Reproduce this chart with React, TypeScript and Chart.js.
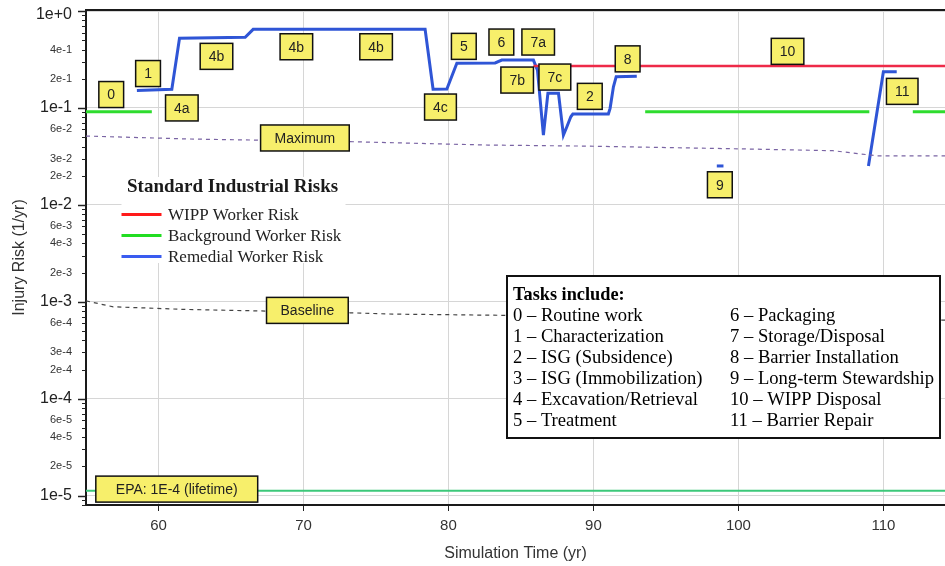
import React, { useEffect, useRef } from 'react';
import { Chart, registerables } from 'chart.js';

Chart.register(...registerables);

// ---------- axis ranges and ticks ----------
const X_MIN = 55;
const X_MAX = 114.25;
const Y_MIN = 8e-6;
const Y_MAX = 1.025;
const xTickValues = [60, 70, 80, 90, 100, 110];
const yTickLabels = [
  '1e+0', '4e-1', '2e-1', '1e-1', '6e-2', '3e-2', '2e-2', '1e-2', '6e-3', '4e-3', '2e-3',
  '1e-3', '6e-4', '3e-4', '2e-4', '1e-4', '6e-5', '4e-5', '2e-5', '1e-5',
];

// ---------- series (time in yr, risk in 1/yr) ----------
const remedialYears1 = [58.51, 60.92, 61.45, 65.98, 66.53, 78.39, 78.94, 79.89, 80.58, 83.22, 83.68, 85.86, 86.14, 86.55, 86.86, 87.59, 87.93, 88.17, 88.44, 88.58, 91.03, 91.15, 91.38, 91.57, 92.99];
const remedialRisk1 = [0.151, 0.156, 0.523, 0.535, 0.647, 0.647, 0.156, 0.157, 0.289, 0.291, 0.312, 0.312, 0.246, 0.0525, 0.1415, 0.1415, 0.0525, 0.064, 0.0811, 0.0865, 0.0865, 0.0991, 0.1655, 0.21, 0.213];
const remedialYears2 = [98.51, 98.97];
const remedialRisk2 = [0.0252, 0.0252];
const remedialYears3 = [108.97, 110.0, 110.92];
const remedialRisk3 = [0.0252, 0.236, 0.236];

const wippYears = [85.86, 115];
const wippRisk = [0.271, 0.271];

const backgroundYears1 = [55, 59.54];
const backgroundRisk1 = [0.0914, 0.0914];
const backgroundYears2 = [93.57, 109.03];
const backgroundRisk2 = [0.0914, 0.0914];
const backgroundYears3 = [112.03, 115];
const backgroundRisk3 = [0.0914, 0.0914];

const epaYears = [55, 115];
const epaRisk = [1.12e-5, 1.12e-5];

const maximumYears = [55, 62.19, 73.43, 82.74, 89.43, 94.39, 100.67, 106.53, 109.54, 115];
const maximumRisk = [0.0513, 0.0478, 0.0448, 0.0414, 0.0404, 0.0392, 0.0377, 0.0362, 0.0321, 0.0321];

const baselineYears = [55, 56.88, 61.7, 73.22, 76.19, 115];
const baselineRisk = [1.02e-3, 8.88e-4, 8.35e-4, 7.7e-4, 7.46e-4, 6.45e-4];

// ---------- callout labels (anchored in data units) ----------
const callouts = [
  { text: '0', x: 56.74, y: 0.1375 },
  { text: '1', x: 59.28, y: 0.2265 },
  { text: '4a', x: 61.61, y: 0.1 },
  { text: '4b', x: 64.0, y: 0.3407 },
  { text: '4b', x: 69.51, y: 0.428 },
  { text: '4b', x: 75.01, y: 0.428 },
  { text: '4c', x: 79.45, y: 0.1022 },
  { text: '5', x: 81.06, y: 0.432 },
  { text: '6', x: 83.65, y: 0.4787 },
  { text: '7a', x: 86.19, y: 0.4787 },
  { text: '7b', x: 84.74, y: 0.194 },
  { text: '7c', x: 87.34, y: 0.2084 },
  { text: '2', x: 89.75, y: 0.1317 },
  { text: '8', x: 92.36, y: 0.321 },
  { text: '10', x: 103.39, y: 0.3838 },
  { text: '9', x: 98.72, y: 0.01612 },
  { text: '11', x: 111.3, y: 0.1483 },
  { text: 'Maximum', x: 70.1, y: 0.049, pad: 14 },
  { text: 'Baseline', x: 70.27, y: 8.15e-4, pad: 14 },
  { text: 'EPA: 1E-4 (lifetime)', x: 61.26, y: 1.167e-5, pad: 20 },
];

const legendTitle = 'Standard Industrial Risks';
const legendItems = [
  { label: 'WIPP Worker Risk', color: '#ff1a1a' },
  { label: 'Background Worker Risk', color: '#22dd22' },
  { label: 'Remedial Worker Risk', color: '#3a5cf0' },
];

const tasksTitle = 'Tasks include:';
const tasksLeft = ['0 – Routine work', '1 – Characterization', '2 – ISG (Subsidence)', '3 – ISG (Immobilization)', '4 – Excavation/Retrieval', '5 – Treatment'];
const tasksRight = ['6 – Packaging', '7 – Storage/Disposal', '8 – Barrier Installation', '9 – Long-term Stewardship', '10 – WIPP Disposal', '11 – Barrier Repair'];

const SANS = '"Liberation Sans", Arial, sans-serif';
const SERIF = '"Liberation Serif", "Times New Roman", serif';

const pts = (xs: number[], ys: number[]) => xs.map((x, i) => ({ x, y: ys[i] }));
const isDecade = (v: number) => {
  const l = Math.log10(v);
  return Math.abs(l - Math.round(l)) < 1e-6;
};
const TOP_LABEL = yTickLabels[0];

const BLUE = '#2f55d6';
const RED = '#ee2a48';
const GREEN = '#2edc2e';

const overlayPlugin = {
  id: 'overlay',
  afterDatasetsDraw(chart: any) {
    const { ctx, scales } = chart;
    const xs = scales.x;
    const ys = scales.y;
    ctx.save();

    // legend box
    ctx.fillStyle = '#ffffff';
    ctx.fillRect(121.5, 177, 224, 86);
    ctx.fillStyle = '#1a1a1a';
    ctx.font = `bold 19px ${SERIF}`;
    ctx.textBaseline = 'middle';
    ctx.textAlign = 'left';
    ctx.fillText(legendTitle, 127, 187);
    legendItems.forEach((it, i) => {
      const y = 214.5 + i * 21;
      ctx.strokeStyle = it.color;
      ctx.lineWidth = 3;
      ctx.beginPath();
      ctx.moveTo(121.5, y);
      ctx.lineTo(161.5, y);
      ctx.stroke();
      ctx.fillStyle = '#222';
      ctx.font = `17px ${SERIF}`;
      ctx.fillText(it.label, 168, y + 1);
    });

    // tasks box
    ctx.fillStyle = '#ffffff';
    ctx.fillRect(507, 276, 433, 162);
    ctx.strokeStyle = '#111';
    ctx.lineWidth = 2;
    ctx.strokeRect(507, 276, 433, 162);
    ctx.fillStyle = '#000';
    ctx.font = `bold 18.3px ${SERIF}`;
    ctx.fillText(tasksTitle, 513, 295);
    ctx.font = `18.6px ${SERIF}`;
    tasksLeft.forEach((t, i) => ctx.fillText(t, 513, 316 + i * 21.1));
    tasksRight.forEach((t, i) => ctx.fillText(t, 730, 316 + i * 21.1));

    // callouts
    ctx.font = `14px ${SANS}`;
    ctx.textAlign = 'center';
    callouts.forEach((c) => {
      const px = xs.getPixelForValue(c.x);
      const py = ys.getPixelForValue(c.y);
      const pad = c.pad ?? 8.5;
      const w = ctx.measureText(c.text).width + pad * 2;
      const h = 26;
      ctx.fillStyle = '#f7ef6b';
      ctx.fillRect(px - w / 2, py - h / 2, w, h);
      ctx.strokeStyle = '#111';
      ctx.lineWidth = 1.5;
      ctx.strokeRect(px - w / 2, py - h / 2, w, h);
      ctx.fillStyle = '#222';
      ctx.fillText(c.text, px, py + 1);
    });
    ctx.restore();
  },
  afterDraw(chart: any) {
    const { ctx, chartArea, scales } = chart;
    ctx.save();
    // top border
    ctx.strokeStyle = '#1a1a1a';
    ctx.lineWidth = 2;
    ctx.beginPath();
    ctx.moveTo(chartArea.left - 1, chartArea.top);
    ctx.lineTo(chartArea.right, chartArea.top);
    ctx.stroke();
    // y tick marks
    const ys = scales.y;
    ys.ticks.forEach((t: any) => {
      const y = Math.round(ys.getPixelForValue(t.value)) + 0.5;
      const dec = isDecade(t.value);
      const len = dec ? 8 : 4;
      ctx.lineWidth = dec ? 1.5 : 1;
      ctx.strokeStyle = '#222';
      ctx.beginPath();
      ctx.moveTo(chartArea.left - len, y);
      ctx.lineTo(chartArea.left, y);
      ctx.stroke();
    });
    // top decade label, kept inside the canvas like the original
    ctx.font = `16px ${SANS}`;
    ctx.fillStyle = '#222';
    ctx.textAlign = 'right';
    ctx.textBaseline = 'middle';
    ctx.fillText(TOP_LABEL, chartArea.left - 14, Math.max(ys.getPixelForValue(1), chartArea.top + 5));
    ctx.restore();
  },
};

export default function App() {
  const ref = useRef<HTMLCanvasElement>(null);
  useEffect(() => {
    const yTickValues: number[] = [];
    for (let k = -6; k <= 0; k++) {
      for (let m = 1; m <= 9; m++) {
        const v = parseFloat(`${m}e${k}`);
        if (v >= Y_MIN && v <= Y_MAX) yTickValues.push(v);
      }
    }
    const line = (label: string, data: any[], color: string, width: number, dash: number[] = []) => ({
      label,
      data,
      borderColor: color,
      backgroundColor: color,
      borderWidth: width,
      borderDash: dash,
      pointRadius: 0,
      tension: 0,
      fill: false,
    });
    const chart = new Chart(ref.current as HTMLCanvasElement, {
      type: 'line',
      data: {
        datasets: [
          line('EPA', pts(epaYears, epaRisk), '#3cc87a', 2),
          line('Baseline', pts(baselineYears, baselineRisk), '#444444', 1.2, [4, 4]),
          line('Maximum', pts(maximumYears, maximumRisk), '#7a64a4', 1.2, [4, 4]),
          line('Background Worker Risk', pts(backgroundYears1, backgroundRisk1), GREEN, 3),
          line('Background Worker Risk 2', pts(backgroundYears2, backgroundRisk2), GREEN, 3),
          line('Background Worker Risk 3', pts(backgroundYears3, backgroundRisk3), GREEN, 3),
          line('WIPP Worker Risk', pts(wippYears, wippRisk), RED, 2.5),
          line('Remedial Worker Risk', pts(remedialYears1, remedialRisk1), BLUE, 3),
          line('Remedial Worker Risk 2', pts(remedialYears2, remedialRisk2), BLUE, 3),
          line('Remedial Worker Risk 3', pts(remedialYears3, remedialRisk3), BLUE, 3),
        ],
      },
      options: {
        animation: false,
        responsive: false,
        layout: { padding: { top: 10, left: 0, right: 0, bottom: 0 } },
        plugins: { legend: { display: false }, tooltip: { enabled: false } },
        scales: {
          x: {
            type: 'linear',
            min: X_MIN,
            max: X_MAX,
            afterBuildTicks: (s: any) => {
              s.ticks = xTickValues.map((v) => ({ value: v }));
            },
            afterFit: (s: any) => {
              s.height = 61;
              s.paddingLeft = 0;
              s.paddingRight = 0;
            },
            grid: { color: '#d6d6d6', lineWidth: 1, tickLength: 6, tickColor: '#222', drawTicks: true },
            border: { display: true, color: '#1a1a1a', width: 2 },
            ticks: { font: { family: SANS, size: 15 }, color: '#333', padding: 6, maxRotation: 0, autoSkip: false },
            title: {
              display: true,
              text: 'Simulation Time (yr)',
              font: { family: SANS, size: 16 },
              color: '#333',
              padding: { top: 0, bottom: 2.5 },
            },
          },
          y: {
            type: 'logarithmic',
            min: Y_MIN,
            max: Y_MAX,
            afterBuildTicks: (s: any) => {
              s.ticks = yTickValues.map((v) => ({ value: v }));
            },
            afterFit: (s: any) => {
              s.width = 86;
              s.paddingTop = 0;
              s.paddingBottom = 0;
            },
            grid: {
              color: (c: any) => (c.tick && isDecade(c.tick.value) ? '#d6d6d6' : 'rgba(0,0,0,0)'),
              lineWidth: 1,
              drawTicks: false,
            },
            border: { display: true, color: '#1a1a1a', width: 2 },
            ticks: {
              autoSkip: false,
              padding: 14,
              callback: (v: any) => {
                const s = Number(v).toExponential(0);
                if (s === TOP_LABEL) return '';
                return yTickLabels.includes(s) ? s : '';
              },
              font: (c: any) => ({ family: SANS, size: c.tick && isDecade(c.tick.value) ? 16 : 11 }),
              color: (c: any) => (c.tick && isDecade(c.tick.value) ? '#222' : '#333'),
            },
            title: {
              display: true,
              text: 'Injury Risk (1/yr)',
              font: { family: SANS, size: 16 },
              color: '#333',
              padding: { top: 10, bottom: 0 },
            },
          },
        },
      },
      plugins: [overlayPlugin],
    } as any);
    return () => chart.destroy();
  }, []);
  return (
    <div style={{ position: 'absolute', left: 0, top: 0, width: 945, height: 566, background: '#fff' }}>
      <canvas ref={ref} width={945} height={566} style={{ display: 'block' }} />
    </div>
  );
}
